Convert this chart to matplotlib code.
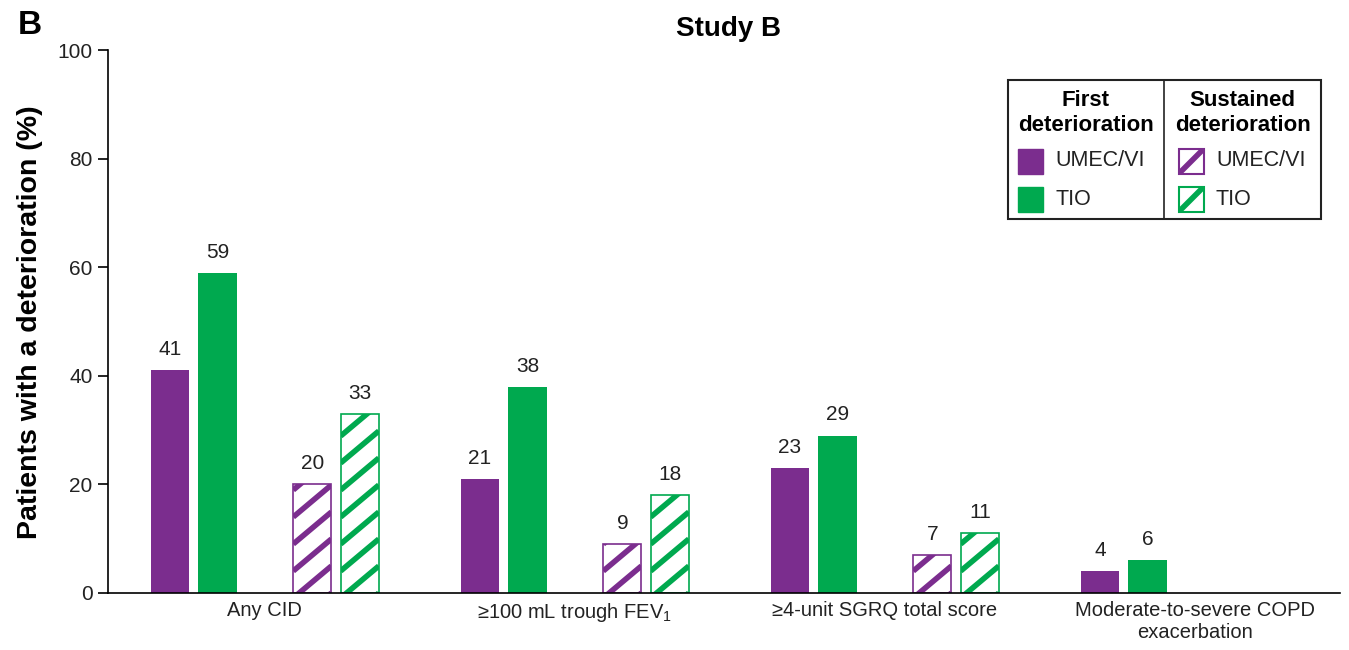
import numpy as np
import matplotlib
matplotlib.use("Agg")
import matplotlib.pyplot as plt
from matplotlib.patches import Rectangle
from matplotlib.lines import Line2D

plt.rcParams['font.family'] = ['Liberation Sans', 'DejaVu Sans']
plt.rcParams['mathtext.fontset'] = 'custom'
plt.rcParams['mathtext.rm'] = 'Liberation Sans'

# Données : % de patients avec une détérioration
categories = ['Any CID', '≥100 mL trough FEV$_1$', '≥4-unit SGRQ total score',
              'Moderate-to-severe COPD\nexacerbation']
first_umec = [41, 21, 23, 4]
first_tio = [59, 38, 29, 6]
sust_umec = [20, 9, 7, None]
sust_tio = [33, 18, 11, None]

purple = '#7B2D8E'
green = '#00A94F'
txt = '#222222'

W, H = 1349, 650
fig = plt.figure(figsize=(W / 100, H / 100), dpi=100)
ax = fig.add_axes([108 / W, 1 - 593 / H, 1232 / W, 543 / H])
ax.set_xlim(-0.506, 3.468)
ax.set_ylim(0, 100)

x = np.arange(len(categories))
w = 0.123
off_in, off_out = 0.153, 0.306


def labels(xs, vals):
    for xi, v in zip(xs, vals):
        ax.annotate(str(v), (xi, v), xytext=(0, 8), textcoords='offset points',
                    ha='center', va='bottom', fontsize=15, color=txt)


def stripes(bars, color, period=27, angle=40, lw=4):
    # hachures diagonales tracées à la main, découpées sur chaque barre
    sx = ax.transData.transform((1, 0))[0] - ax.transData.transform((0, 0))[0]
    sy = ax.transData.transform((0, 1))[1] - ax.transData.transform((0, 0))[1]
    slope = sx * np.tan(np.radians(angle)) / sy
    step = period / sy
    for b in bars:
        x0, bw, h = b.get_x(), b.get_width(), b.get_height()
        rise = bw * slope
        for c in np.arange(-rise, h + step, step):
            ln = Line2D([x0, x0 + bw], [c, c + rise], color=color, lw=lw,
                        solid_capstyle='butt')
            ax.add_line(ln)
            ln.set_clip_path(b)


ax.bar(x - off_out, first_umec, w, color=purple)
ax.bar(x - off_in, first_tio, w, color=green)
labels(x - off_out, first_umec)
labels(x - off_in, first_tio)

# barres hachurées (détérioration soutenue)
idx = [i for i, v in enumerate(sust_umec) if v is not None]
su = [sust_umec[i] for i in idx]
st = [sust_tio[i] for i in idx]
b1 = ax.bar(x[idx] + off_in, su, w, facecolor='white', edgecolor=purple, linewidth=1.2)
b2 = ax.bar(x[idx] + off_out, st, w, facecolor='white', edgecolor=green, linewidth=1.2)
stripes(b1, purple)
stripes(b2, green)
labels(x[idx] + off_in, su)
labels(x[idx] + off_out, st)

ax.set_yticks(range(0, 101, 20))
ax.set_xticks(x)
ax.set_xticklabels(categories, fontsize=14.5, color=txt)
ax.tick_params(axis='x', length=0, pad=6)
ax.tick_params(axis='y', labelsize=15, labelcolor=txt, length=7, width=1.2, pad=4)
for s in ['top', 'right']:
    ax.spines[s].set_visible(False)
for s in ['left', 'bottom']:
    ax.spines[s].set_linewidth(1.2)

fig.text(30 / W, 1 - 322 / H, 'Patients with a deterioration (%)', rotation=90,
         ha='center', va='center', fontsize=20.5, fontweight='bold', color='black')
fig.text(729 / W, 1 - 29 / H, 'Study B', ha='center', va='center', fontsize=20,
         fontweight='bold')
fig.text(30 / W, 1 - 25 / H, 'B', ha='center', va='center', fontsize=24,
         fontweight='bold')

# Légende en tableau
lx0, lx1, lxm = 1008 / W, 1321 / W, 1164 / W
ly0, ly1 = 1 - 219 / H, 1 - 80 / H
fig.add_artist(Rectangle((lx0, ly0), lx1 - lx0, ly1 - ly0, transform=fig.transFigure,
                         facecolor='white', edgecolor=txt, linewidth=1.5))
fig.add_artist(Line2D([lxm, lxm], [ly0, ly1], transform=fig.transFigure,
                      color=txt, linewidth=1.2))
fig.text((lx0 + lxm) / 2, 1 - 113 / H, 'First\ndeterioration', ha='center',
         va='center', fontsize=16, fontweight='bold', linespacing=1.2)
fig.text((lxm + lx1) / 2, 1 - 113 / H, 'Sustained\ndeterioration', ha='center',
         va='center', fontsize=16, fontweight='bold', linespacing=1.2)
sw, sh = 25 / W, 25 / H
for px, hatched in [(1018, False), (1179, True)]:
    for py, c, name in [(161, purple, 'UMEC/VI'), (199, green, 'TIO')]:
        fx, fy = px / W, 1 - py / H
        if hatched:
            r = Rectangle((fx, fy - sh / 2), sw, sh, transform=fig.transFigure,
                          facecolor='white', edgecolor=c, linewidth=1.5)
            fig.add_artist(r)
            d = Line2D([fx, fx + sw], [fy - sh / 2, fy + sh / 2], transform=fig.transFigure,
                       color=c, lw=4, solid_capstyle='butt')
            fig.add_artist(d)
            d.set_clip_path(r)
        else:
            fig.add_artist(Rectangle((fx, fy - sh / 2), sw, sh, transform=fig.transFigure,
                                     facecolor=c, edgecolor=c))
        fig.text(fx + 37 / W, fy, name, ha='left', va='center', fontsize=15.5, color=txt)

fig.savefig('out.png', dpi=100)
